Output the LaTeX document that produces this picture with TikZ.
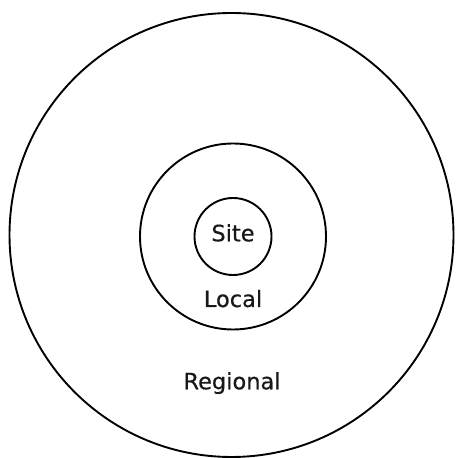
\documentclass[tikz,border=0pt]{standalone}
\usepackage{fontspec}
\setmainfont{DejaVu Sans}
\newfontfamily\lblfont[FakeBold=0.5]{DejaVu Sans}
\begin{document}
\begin{tikzpicture}[x=1pt,y=1pt,
  ring/.style={draw=black,line width=1.9pt,circle,inner sep=0pt},
  lbl/.style={inner sep=0pt,anchor=base,font=\lblfont\fontsize{22.5}{26}\selectfont,text=black!90}]
\useasboundingbox (0,0) rectangle (456,458);
\node[ring,minimum size=444pt] (regional) at (231.5,223) {};
\node[ring,minimum size=186pt] (local) at (233,221.5) {};
\node[ring,minimum size=77pt] (site) at (233,221.5) {};
\node[lbl] (sitelbl) at (233,216.7) {Site};
\node[lbl] (locallbl) at (233,151) {Local};
\node[lbl] (regionallbl) at (232,68.7) {Regional};
\end{tikzpicture}
\end{document}
